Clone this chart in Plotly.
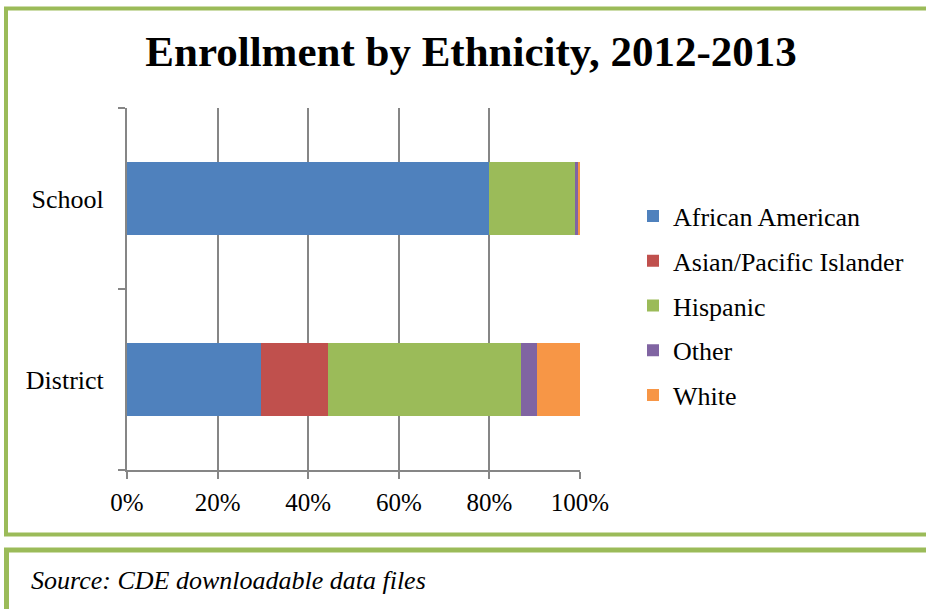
import plotly.graph_objects as go

categories = ["District", "School"]
series_names = ["African American", "Asian/Pacific Islander", "Hispanic", "Other", "White"]
african_american = [0.296, 0.800]
asian_pacific = [0.148, 0.000]
hispanic = [0.426, 0.191]
other = [0.035, 0.004]
white = [0.095, 0.005]
x_tick_values = [0, 0.2, 0.4, 0.6, 0.8, 1.0]
x_tick_labels = ["0%", "20%", "40%", "60%", "80%", "100%"]

colors = ["#4F81BD", "#C0504D", "#9BBB59", "#8064A2", "#F79646"]
values = [african_american, asian_pacific, hispanic, other, white]

W, H = 926, 609
L, R, T, B = 127, 580, 108, 470
PW, PH = R - L, B - T

def fx(px):
    return (px - L) / PW

def fy(py):
    return (B - py) / PH

FONT = "Liberation Serif, Times New Roman, serif"
GRID = "#868686"
GREEN = "#9BBB59"

fig = go.Figure()
for name, vals, col in zip(series_names, values, colors):
    fig.add_trace(go.Bar(
        y=categories, x=vals, name=name, orientation="h",
        marker=dict(color=col, line=dict(width=0)),
        legendgroup=name,
    ))

shapes = [
    dict(type="rect", xref="paper", yref="paper",
         x0=fx(6), x1=fx(945), y0=fy(8.5), y1=fy(534.5),
         line=dict(color=GREEN, width=4), layer="above"),
    dict(type="rect", xref="paper", yref="paper",
         x0=fx(6.5), x1=fx(945), y0=fy(550), y1=fy(650),
         line=dict(color=GREEN, width=5), layer="above"),
]

fig.update_layout(
    width=W, height=H,
    margin=dict(l=L, r=W - R, t=T, b=H - B, pad=0),
    paper_bgcolor="white", plot_bgcolor="white",
    barmode="stack", bargap=0.6,
    font=dict(family=FONT, size=25, color="#000000"),
    title=dict(text="<b>Enrollment by Ethnicity, 2012-2013</b>",
               font=dict(family=FONT, size=43, color="#000000"),
               x=471 / W, xref="container", xanchor="center",
               y=1 - 51 / H, yref="container", yanchor="middle"),
    xaxis=dict(range=[0, 1], tickvals=x_tick_values, ticktext=x_tick_labels,
               showgrid=True, gridcolor=GRID, gridwidth=2,
               showline=True, linecolor=GRID, linewidth=2,
               ticks="outside", ticklen=7, tickcolor=GRID, tickwidth=2,
               ticklabelstandoff=2,
               tickfont=dict(family=FONT, size=25, color="#000000"),
               zeroline=False, fixedrange=True),
    yaxis=dict(categoryorder="array", categoryarray=categories,
               showgrid=False, showline=True, linecolor=GRID, linewidth=2,
               ticks="outside", ticklen=7, tickcolor=GRID, tickwidth=2,
               tickson="boundaries", ticklabelstandoff=16,
               tickfont=dict(family=FONT, size=26, color="#000000"),
               zeroline=False, fixedrange=True),
    legend=dict(x=fx(633), xanchor="left", y=fy(306), yanchor="middle",
                traceorder="grouped", tracegroupgap=8,
                font=dict(family=FONT, size=26, color="#000000"),
                bgcolor="rgba(0,0,0,0)", itemwidth=30),
    shapes=shapes,
    annotations=[dict(text="<i>Source: CDE downloadable data files</i>",
                      xref="paper", yref="paper", x=fx(29), y=fy(580),
                      xanchor="left", yanchor="middle", showarrow=False,
                      font=dict(family=FONT, size=26, color="#000000"))],
)

fig.write_html(
    "out.html",
    config={"displayModeBar": False},
    post_script="document.body.style.margin='0';document.body.style.overflow='hidden';",
)
